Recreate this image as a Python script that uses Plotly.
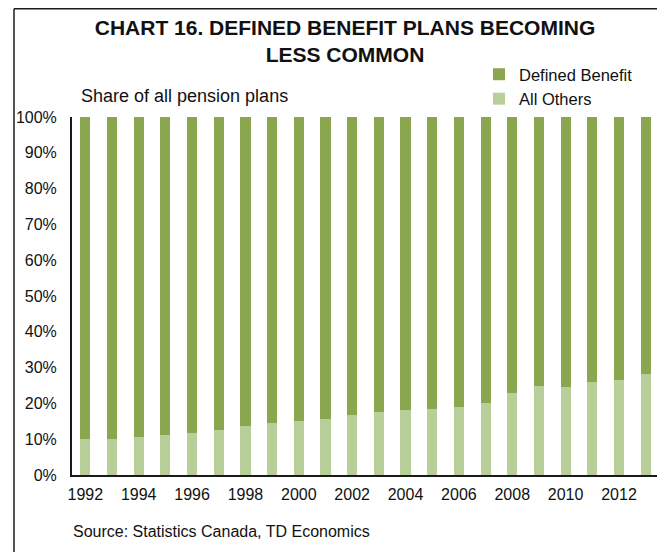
import plotly.graph_objects as go

years = [str(y) for y in range(1992, 2014)]
all_others = [10.0, 10.0, 10.7, 11.3, 11.8, 12.7, 13.8, 14.5, 15.2, 15.7, 16.8, 17.7,
              18.2, 18.5, 19.0, 20.2, 23.0, 24.9, 24.6, 25.9, 26.6, 28.3]
defined_benefit = [round(100 - v, 1) for v in all_others]
tick_years = [str(y) for y in range(1992, 2013, 2)]
y_ticks = list(range(0, 101, 10))
y_labels = [f"{v}%" for v in y_ticks]

DARK = "#8aa64f"
LIGHT = "#b9cf99"
FONT = "Liberation Sans, Arial, sans-serif"

fig = go.Figure()
fig.add_trace(go.Bar(x=years, y=all_others, name="All Others",
                     marker=dict(color=LIGHT, line=dict(width=0))))
fig.add_trace(go.Bar(x=years, y=defined_benefit, name="Defined Benefit",
                     marker=dict(color=DARK, line=dict(width=0))))

OFF = 8  # page body margin
W, H = 657, 544
L, R, T, B = 64, 6, 109, 77
pw, ph = W - L - R, H - T - B

def px(x):  # page x -> paper x
    return (x - OFF - L) / pw

def py(y):  # page y -> paper y
    return (H - B - (y - OFF)) / ph

fig.update_layout(
    width=W, height=H,
    barmode="stack", bargap=0.62,
    plot_bgcolor="white", paper_bgcolor="white",
    margin=dict(l=L, r=R, t=T, b=B, autoexpand=False),
    font=dict(family=FONT, size=16, color="#111111"),
    title=dict(text="<b>CHART 16. DEFINED BENEFIT PLANS BECOMING<br>LESS COMMON</b>",
               x=px(345), xref="paper", xanchor="center",
               yref="container", y=1 - (34.5 - OFF) / H, yanchor="middle",
               font=dict(size=21, color="#111111")),
    legend=dict(x=px(479), y=py(57), xanchor="left", yanchor="top",
                xref="paper", yref="paper", traceorder="reversed",
                font=dict(size=16.5), itemwidth=30, tracegroupgap=0,
                bgcolor="rgba(0,0,0,0)"),
    xaxis=dict(type="category", range=[-0.5, 21.5], tickvals=tick_years,
               showline=True, linecolor="#1a1a1a", linewidth=2,
               ticks="", tickfont=dict(size=16), showgrid=False,
               ticklabelstandoff=4),
    yaxis=dict(range=[0, 100], tickvals=y_ticks, ticktext=y_labels,
               showline=True, linecolor="#1a1a1a", linewidth=2,
               ticks="", tickfont=dict(size=16), showgrid=False, zeroline=False,
               ticklabelstandoff=10),
    annotations=[
        dict(text="Share of all pension plans", x=px(79), y=py(96),
             xref="paper", yref="paper", xanchor="left", yanchor="middle",
             showarrow=False, font=dict(size=18)),
        dict(text="Source: Statistics Canada, TD Economics", x=px(71), y=py(531),
             xref="paper", yref="paper", xanchor="left", yanchor="middle",
             showarrow=False, font=dict(size=16)),
    ],
    shapes=[
        dict(type="line", xref="paper", yref="paper", x0=px(14), x1=px(14),
             y0=py(8.7), y1=py(H + OFF + 5), line=dict(color="#1c1c1c", width=1.5)),
        dict(type="line", xref="paper", yref="paper", x0=px(14), x1=px(W + OFF + 5),
             y0=py(8.7), y1=py(8.7), line=dict(color="#1c1c1c", width=1.5)),
    ],
)

fig.write_html("out.html")
